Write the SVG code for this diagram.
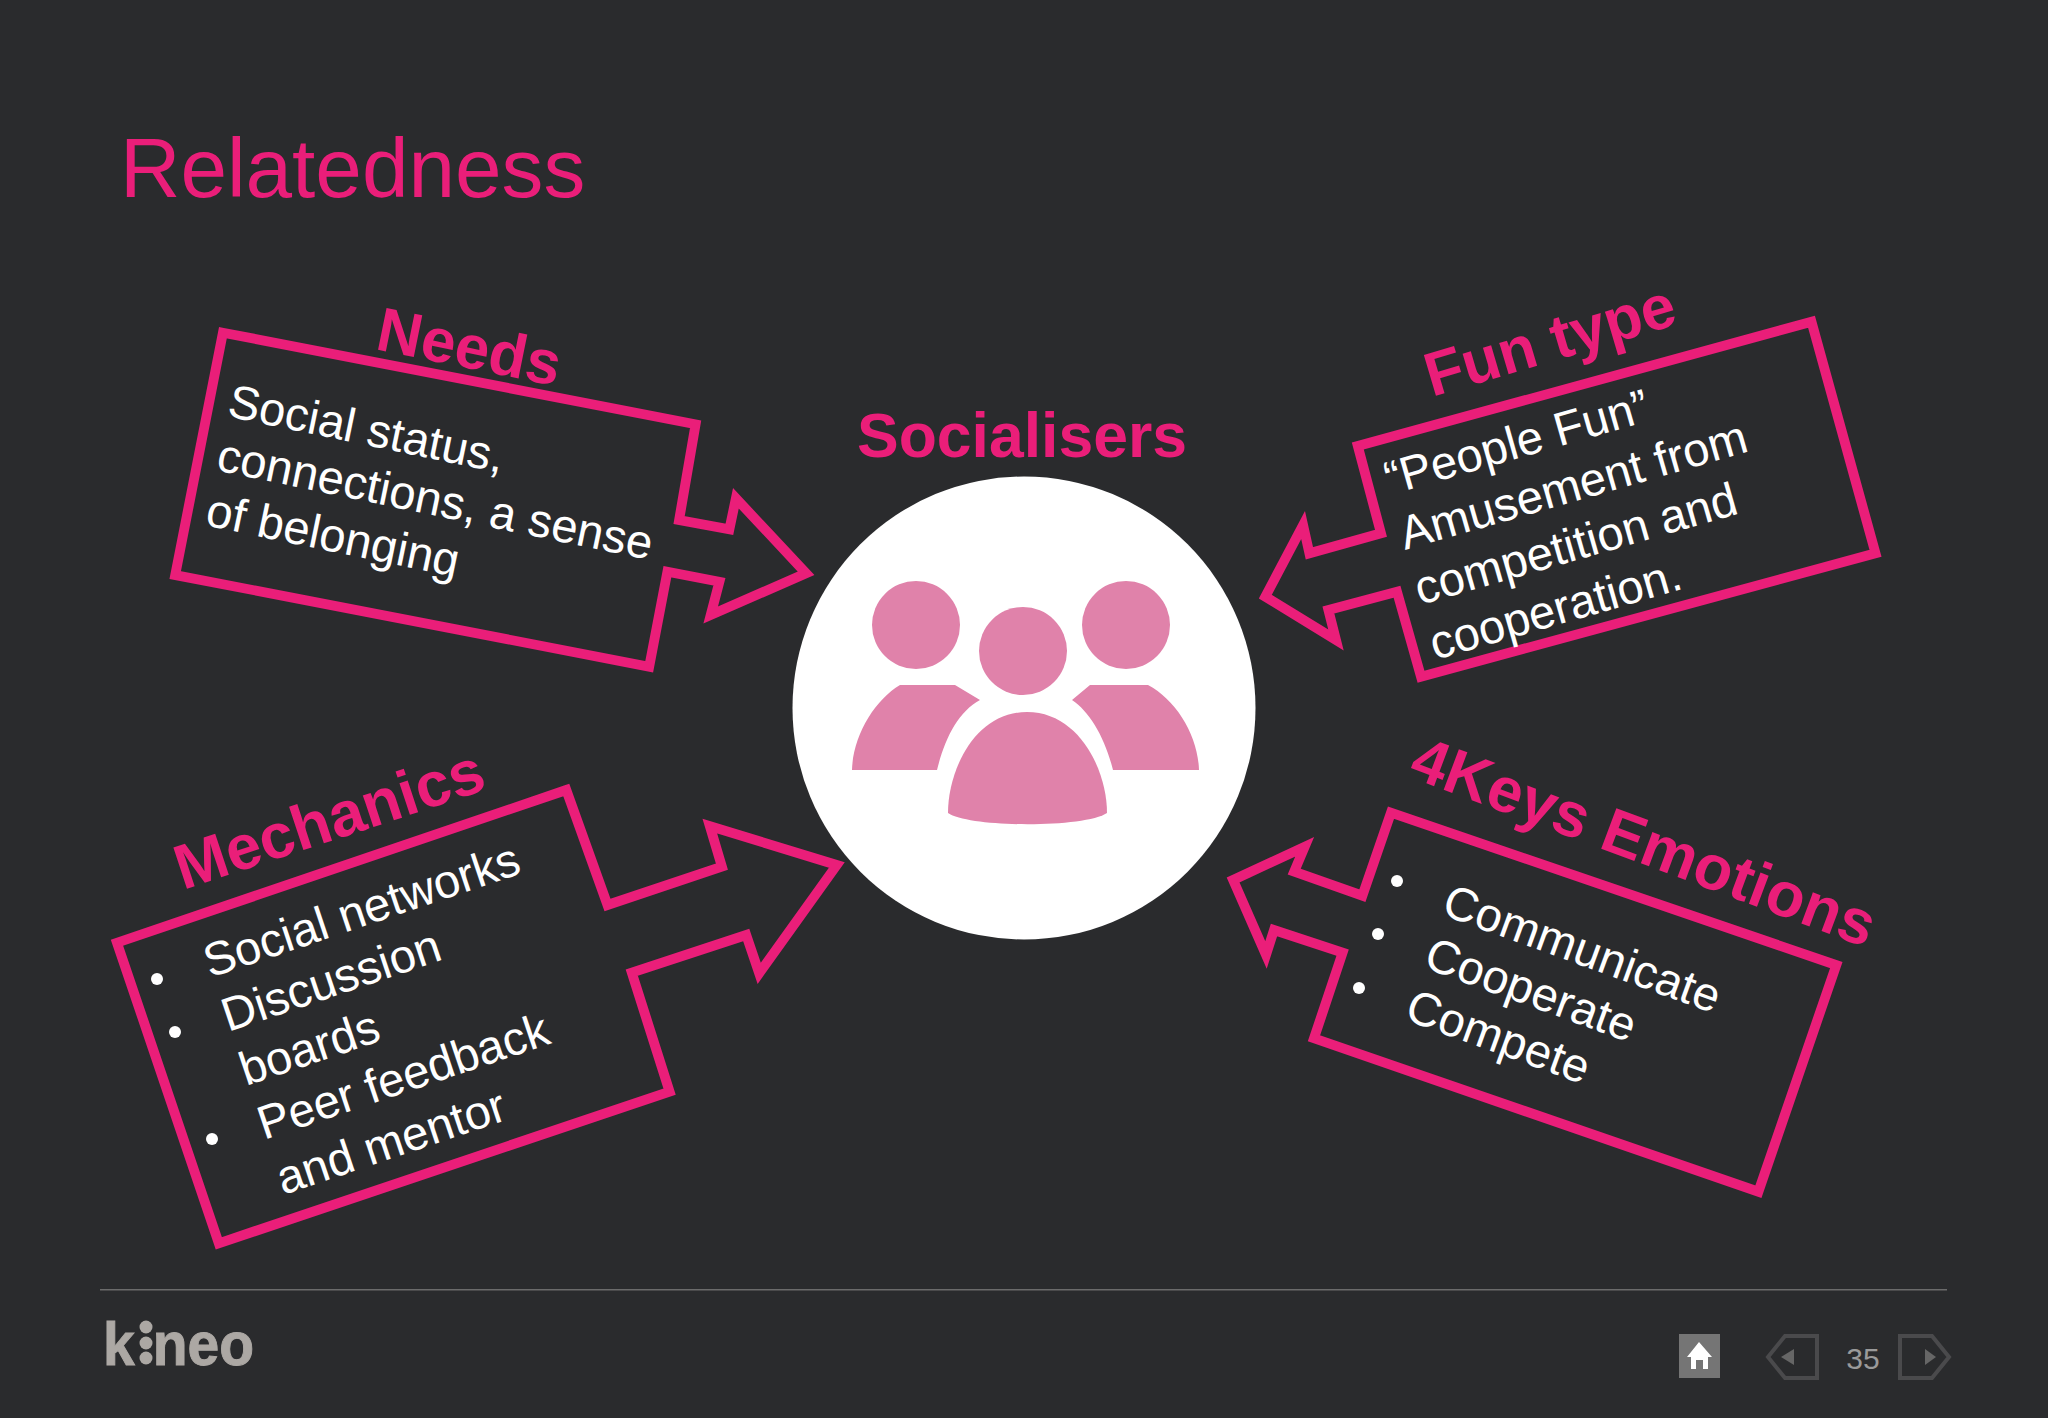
<svg xmlns="http://www.w3.org/2000/svg" width="2048" height="1418" viewBox="0 0 2048 1418">
<style>
.bg{fill:#2a2b2d}
.box{fill:none;stroke:#ea1e79;stroke-width:9.800;stroke-miterlimit:10}
.h{font-family:"Liberation Sans",Arial,sans-serif;font-weight:700;fill:#ea1e79;font-size:62px}
.t{font-family:"Liberation Sans",Arial,sans-serif;fill:#fff;font-size:47.200px}
.i{fill:#e082aa}
.b{fill:#fff}
.nav{fill:none;stroke:#4a4a4c;stroke-width:4}
.ar{fill:#666}
</style>
<rect class="bg" width="2048" height="1418"/>
<text id="title" x="120" y="197" font-family="Liberation Sans, Arial, sans-serif" font-size="83.700" fill="#ea1e79">Relatedness</text>
<g id="centre">
<text class="h" x="1022" y="457" text-anchor="middle" style="font-size:62.500px">Socialisers</text>
<circle cx="1024" cy="708" r="231.500" fill="#fff"/>
<circle class="i" cx="916" cy="625" r="44"/>
<circle class="i" cx="1023" cy="651" r="44"/>
<circle class="i" cx="1126" cy="625" r="44"/>
<path class="i" d="M948 813C948 770 975 712 1027 712C1079 712 1107 770 1107 813C1085 828 970 828 948 813Z"/>
<path class="i" d="M852 770C853 735 875 700 900 685H955L980 700C958 712 945 738 937 770Z"/>
<path class="i" d="M1199 770C1198 735 1176 700 1148 685H1090L1072 700C1090 712 1105 738 1113 770Z"/>
</g>
<g id="needs">
<path class="box" d="M222.900 332.700L695.600 424.300L679.100 520L729.400 529.300L735.900 498.300L806.100 573.300L710.700 615L719.400 581.700L667.400 571.700L649.200 666.700L175.200 575Z"/>
<text class="h" transform="translate(374 349) rotate(11.500)">Needs</text>
<text class="t" transform="translate(226 416) rotate(11.700)">Social status,</text>
<text class="t" transform="translate(215 470) rotate(11.700)">connections, a sense</text>
<text class="t" transform="translate(204 525) rotate(11.700)">of belonging</text>
</g>
<g id="mechanics">
<path class="box" d="M566.300 790L117 942.700L218.800 1243.300L669.600 1091.700L631.800 972.700L746.200 935L759.200 973.300L836.800 865L709.800 826L721.900 866.700L607.500 905Z"/>
<text class="h" transform="translate(183 890) rotate(-18.300)" style="font-size:63px">Mechanics</text>
<text class="t" transform="translate(210 978) rotate(-18.600)">Social networks</text>
<text class="t" transform="translate(228 1032) rotate(-18.600)">Discussion</text>
<text class="t" transform="translate(246 1086) rotate(-18.600)">boards</text>
<text class="t" transform="translate(264 1140) rotate(-18.600)">Peer feedback</text>
<text class="t" transform="translate(283 1195) rotate(-18.600)">and mentor</text>
<circle class="b" cx="157" cy="979" r="6"/><circle class="b" cx="175" cy="1032" r="6"/><circle class="b" cx="212" cy="1139" r="6"/>
</g>
<g id="funtype">
<path class="box" d="M1811.500 321.700L1357.800 446L1381 533.300L1309.400 553.300L1303.100 525L1265.300 596.700L1336 640L1328.400 610L1397 591.700L1421 676.700L1875.500 553.300Z"/>
<text class="h" transform="translate(1432 397) rotate(-16.500)">Fun type</text>
<text class="t" transform="translate(1390 495) rotate(-16)">“People Fun”</text>
<text class="t" transform="translate(1405 550) rotate(-16)">Amusement from</text>
<text class="t" transform="translate(1420 605) rotate(-16)">competition and</text>
<text class="t" transform="translate(1435 660) rotate(-16)">cooperation.</text>
</g>
<g id="keys">
<path class="box" d="M1391 812.700L1362.400 895.700L1294.200 871.700L1304.700 846.700L1233.100 880L1266 955L1274 930L1342.600 952.700L1314 1038.300L1758.400 1191.700L1836.300 965Z"/>
<text class="h" transform="translate(1407 776) rotate(20.500)" style="font-size:63px">4Keys Emotions</text>
<text class="t" transform="translate(1440 914) rotate(20)">Communicate</text>
<text class="t" transform="translate(1422 967) rotate(20)">Cooperate</text>
<text class="t" transform="translate(1403 1019) rotate(20)">Compete</text>
<circle class="b" cx="1397" cy="881" r="6"/><circle class="b" cx="1378" cy="934" r="6"/><circle class="b" cx="1359" cy="988" r="6"/>
</g>
<g id="footer">
<rect x="100" y="1289" width="1847" height="1.500" fill="#6b6b6b"/>
<g id="logo" fill="#aca8a4">
<text transform="translate(0 1365) scale(.92 1)" font-family="Liberation Sans, Arial, sans-serif" font-weight="700" font-size="62" stroke="#aca8a4" stroke-width="1"><tspan x="112">k</tspan><tspan x="150" fill="none" stroke="none">i</tspan><tspan x="166">neo</tspan></text>
<circle cx="146" cy="1327" r="6.500"/><circle cx="146" cy="1343" r="6.500"/><circle cx="146" cy="1358" r="6.500"/>
</g>
<rect x="1679" y="1334" width="41" height="44" fill="#757575"/>
<path d="M1699 1342L1712 1357H1708V1369H1703V1360H1696V1369H1691V1357H1687Z" fill="#fff"/>
<path class="nav" d="M1817 1336H1785L1768 1357L1785 1378H1817Z"/>
<path class="ar" d="M1794 1349V1365L1781 1357Z"/>
<text x="1863" y="1369" text-anchor="middle" font-family="Liberation Sans, Arial, sans-serif" font-size="30" fill="#9a9a9a">35</text>
<path class="nav" d="M1900 1336H1932L1949 1357L1932 1378H1900Z"/>
<path class="ar" d="M1925 1349V1365L1936 1357Z"/>
</g>
</svg>
